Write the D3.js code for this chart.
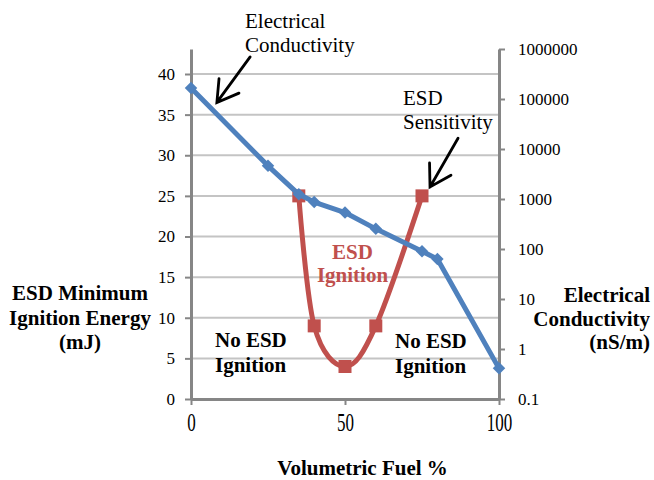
<!DOCTYPE html>
<html><head><meta charset="utf-8">
<script src="https://cdn.jsdelivr.net/npm/d3@7"></script>
<style>
body{margin:0;background:#fff}
svg{display:block}
</style>
</head><body>
<svg id="c" width="654" height="480"></svg>
<script>
// ---- data ----
const fuelPct = [0, 25, 35, 40, 50, 60, 75, 80, 100];
const conductivity = [166000, 4600, 1240, 870, 535, 253, 90, 63, 0.41];
const sensFuel = [35, 40, 50, 60, 75];
const minIgnitionEnergy = [25, 9, 4, 9, 25];
const leftTicks = [0, 5, 10, 15, 20, 25, 30, 35, 40];
const rightTicks = [0.1, 1, 10, 100, 1000, 10000, 100000, 1000000];
const xTicks = [0, 50, 100];

// ---- layout ----
const FONT = "Liberation Serif";
const L = 191, R = 499, T = 49, B = 399;
const svg = d3.select("#c");

const x = d3.scaleLinear().domain([0, 100]).range([L, R]);
const yL = d3.scaleLinear().domain([0, 40 * (B - T) / (B - 74)]).range([B, T]);
const yR = d3.scaleLog().domain([0.1, 1000000]).range([B, T]);

const axisCol = "#868686", gridCol = "#c4c4c4";

// gridlines
svg.append("g").selectAll("line").data(leftTicks.filter(d => d > 0)).join("line")
  .attr("x1", L).attr("x2", R).attr("y1", d => yL(d)).attr("y2", d => yL(d))
  .attr("stroke", gridCol).attr("stroke-width", 2);

// axes
const gL = svg.append("g").attr("transform", `translate(${L},0)`)
  .call(d3.axisLeft(yL).tickValues(leftTicks).tickSize(6).tickSizeOuter(0).tickPadding(10));
const gR = svg.append("g").attr("transform", `translate(${R},0)`)
  .call(d3.axisRight(yR).tickValues(rightTicks).tickFormat(d => String(d)).tickSize(6).tickSizeOuter(0).tickPadding(13));
const gX = svg.append("g").attr("transform", `translate(0,${B})`)
  .call(d3.axisBottom(x).tickValues(xTicks).tickSize(6).tickSizeOuter(0).tickPadding(0));

[gL, gR, gX].forEach(g => {
  g.attr("font-family", null);
  g.select(".domain").attr("stroke", axisCol).attr("stroke-width", 3);
  g.selectAll(".tick line").attr("stroke", axisCol).attr("stroke-width", 2);
  g.selectAll("text").style("font-family", FONT).style("fill", "#000");
});
gL.selectAll("text").style("font-size", "17px");
gR.selectAll("text").style("font-size", "17px").attr("text-anchor", "start");
gX.selectAll(".tick text").style("font-size", "17px").attr("dy", null).attr("y", 0)
  .attr("transform", "translate(0,32) scale(1,1.42)");

// red series: ESD minimum ignition energy (left axis), smoothed
const redCol = "#C0504D", blueCol = "#4F81BD";
const redPts = sensFuel.map((f, i) => [x(f), yL(minIgnitionEnergy[i])]);
svg.append("path").attr("d", d3.line().curve(d3.curveCatmullRom.alpha(0))(redPts))
  .attr("fill", "none").attr("stroke", redCol).attr("stroke-width", 5).attr("stroke-linejoin", "round");
svg.append("g").selectAll("rect").data(redPts).join("rect")
  .attr("x", d => d[0] - 6.5).attr("y", d => d[1] - 6.5).attr("width", 13).attr("height", 13)
  .attr("fill", redCol);

// blue series: conductivity (right log axis)
const bluePts = fuelPct.map((f, i) => [x(f), yR(conductivity[i])]);
svg.append("path").attr("d", d3.line()(bluePts))
  .attr("fill", "none").attr("stroke", blueCol).attr("stroke-width", 5).attr("stroke-linejoin", "round");
svg.append("g").selectAll("path").data(bluePts).join("path")
  .attr("d", d3.symbol(d3.symbolSquare, 78)())
  .attr("transform", d => `translate(${d[0]},${d[1]}) rotate(45)`)
  .attr("fill", blueCol);

// annotation arrows (in data units: fuel %, mJ)
function arrow(x0, y0, x1, y1) {
  const p0 = [x(x0), yL(y0)], p1 = [x(x1), yL(y1)];
  const ang = Math.atan2(p0[1] - p1[1], p0[0] - p1[0]);
  const len = 24, spread = 31 * Math.PI / 180;
  const w1 = [p1[0] + len * Math.cos(ang - spread), p1[1] + len * Math.sin(ang - spread)];
  const w2 = [p1[0] + len * Math.cos(ang + spread), p1[1] + len * Math.sin(ang + spread)];
  svg.append("path")
    .attr("d", `M${p0}L${p1}M${w1}L${p1}L${w2}`)
    .attr("fill", "none").attr("stroke", "#000").attr("stroke-width", 2.8)
    .attr("stroke-linecap", "round").attr("stroke-linejoin", "miter");
}
arrow(19.2, 42.1, 8.4, 36.5);
arrow(86.7, 32.1, 77.6, 26.1);

// text helper
function lines(arr, px, py, opts) {
  const t = svg.append("text").attr("x", px).attr("y", py)
    .style("font-family", FONT)
    .style("font-size", (opts.size || 21) + "px")
    .style("font-weight", opts.bold ? "bold" : "normal")
    .attr("text-anchor", opts.anchor || "start")
    .style("fill", opts.color || "#000");
  arr.forEach((s, i) => {
    t.append("tspan").attr("x", px).attr("y", py + i * (opts.lh || 24)).text(s);
  });
}

lines(["Electrical", "Conductivity"], 245, 28, {});
lines(["ESD", "Sensitivity"], 403, 105, {});
lines(["ESD", "Ignition"], 352.5, 259, {bold: true, color: redCol, anchor: "middle", lh: 23});
lines(["No ESD", "Ignition"], 215, 347, {bold: true, lh: 24.5});
lines(["No ESD", "Ignition"], 395, 348, {bold: true, lh: 25});

// axis titles
lines(["ESD Minimum", "Ignition Energy", "(mJ)"], 80, 300, {bold: true, anchor: "middle", lh: 24.5});
lines(["Electrical", "Conductivity", "(nS/m)"], 650, 302, {bold: true, anchor: "end", lh: 23.5});
lines(["Volumetric Fuel %"], 362.5, 475, {bold: true, anchor: "middle"});
</script>
</body></html>
